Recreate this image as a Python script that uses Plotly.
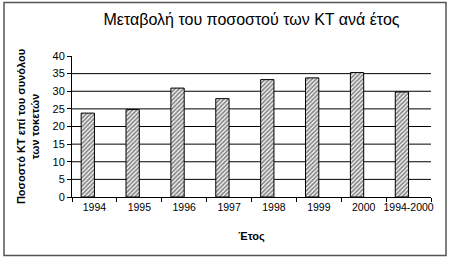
import plotly.graph_objects as go

categories = ["1994", "1995", "1996", "1997", "1998", "1999", "2000", "1994-2000"]
values = [23.8, 24.8, 30.9, 27.9, 33.3, 33.8, 35.3, 29.8]
title_text = "Μεταβολή του ποσοστού των ΚΤ ανά έτος"
y_title = "Ποσοστό ΚΤ επί του συνόλου<br>των τοκετών"
x_title = "Έτος"
y_ticks = [0, 5, 10, 15, 20, 25, 30, 35, 40]
grid_vals = [5, 10, 15, 20, 25, 30, 35]

FONT = "Liberation Sans, Arial, sans-serif"

fig = go.Figure()
fig.add_trace(go.Bar(
    x=categories, y=values,
    width=0.296, offset=-0.296,
    marker=dict(color="white",
                line=dict(color="black", width=1),
                pattern=dict(shape="/", fgcolor="#111111", bgcolor="white", size=3, solidity=0.6)),
))

shapes = [dict(type="line", xref="paper", yref="y", x0=0, x1=1, y0=g, y1=g,
               line=dict(color="black", width=1), layer="below") for g in grid_vals]
shapes.append(dict(type="rect", xref="paper", yref="paper",
                   x0=-68/359, x1=1 + 15/359, y0=-58/140, y1=1 + 53/140,
                   line=dict(color="#555555", width=1.5), fillcolor="rgba(0,0,0,0)", layer="above"))

fig.update_layout(
    width=450, height=259,
    margin=dict(l=72, r=19, t=56, b=62, autoexpand=False),
    paper_bgcolor="white", plot_bgcolor="white",
    showlegend=False,
    font=dict(family=FONT, size=11, color="black"),
    title=dict(text=title_text, x=0.5, xref="paper", xanchor="center", y=0.925, yanchor="middle",
               font=dict(family=FONT, size=16, color="black")),
    xaxis=dict(type="category", showline=True, linecolor="black", linewidth=1,
               ticks="outside", tickson="boundaries", ticklen=4, tickcolor="black",
               showgrid=False, tickangle=0, automargin=False,
               tickfont=dict(size=10.5),
               title=dict(text="<b>" + x_title + "</b>", font=dict(size=11), standoff=20)),
    yaxis=dict(range=[0, 40], tickvals=y_ticks, showline=True, linecolor="black", linewidth=1,
               ticks="outside", ticklen=4, tickcolor="black", automargin=False,
               showgrid=False, zeroline=False,
               tickfont=dict(size=11),
               title=dict(text="<b>" + y_title + "</b>", font=dict(size=11), standoff=10)),
    shapes=shapes,
)

fig.write_html("out.html")
